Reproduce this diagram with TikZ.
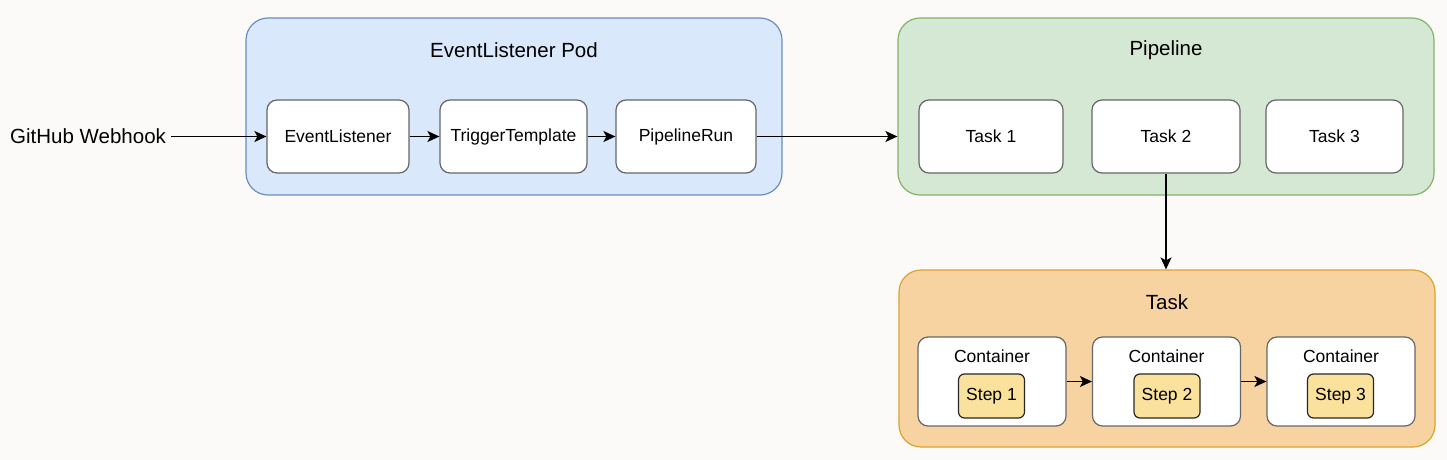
\documentclass[tikz,border=0pt]{standalone}
\usepackage{fontspec}
\setmainfont{Liberation Sans}
\usetikzlibrary{arrows.meta}
\definecolor{bgc}{RGB}{251,250,248}
\definecolor{bluefill}{HTML}{DAE8FC}
\definecolor{bluedraw}{HTML}{6C8EBF}
\definecolor{greenfill}{HTML}{D5E8D4}
\definecolor{greendraw}{HTML}{82B366}
\definecolor{orangefill}{HTML}{F8D3A2}
\definecolor{orangedraw}{HTML}{DDA22E}
\definecolor{stepfill}{HTML}{FBE29C}
\definecolor{boxdraw}{HTML}{666666}
\tikzset{
  x=1pt, y=-1pt,
  group/.style={draw, rounded corners=22pt, line width=1.2pt, minimum width=536pt, minimum height=177pt, inner sep=0pt},
  itembox/.style={draw=boxdraw, fill=white, rounded corners=10pt, line width=1.2pt, minimum height=73pt, inner sep=0pt, font=\fontsize{17.5}{20}\selectfont},
  contbox/.style={draw=boxdraw, fill=white, rounded corners=10pt, line width=1.2pt, minimum width=148pt, minimum height=89pt, inner sep=0pt},
  stepbox/.style={draw=black!85, fill=stepfill, rounded corners=6pt, line width=1.2pt, minimum width=66pt, minimum height=44pt, inner sep=0pt, font=\fontsize{17.5}{20}\selectfont},
  title/.style={font=\fontsize{20.5}{24}\selectfont, inner sep=0pt},
  lbl/.style={font=\fontsize{17.5}{20}\selectfont, inner sep=0pt},
  arr/.style={-{Stealth[length=12pt,width=11pt,inset=3pt]}, line width=1.5pt, black},
}
\begin{document}
\begin{tikzpicture}
\fill[bgc] (0,0) rectangle (1447,460);
\useasboundingbox (0,0) rectangle (1447,460);

% EventListener Pod
\node[group, fill=bluefill, draw=bluedraw] (pod) at (514,106.5) {};
\node[title] (podt) at (514,50) {EventListener Pod};
\node[itembox, minimum width=142pt] (el) at (338,136.5) {EventListener};
\node[itembox, minimum width=147pt] (tt) at (513.5,136.5) {TriggerTemplate};
\node[itembox, minimum width=140pt] (pr) at (686,136.5) {PipelineRun};

% Pipeline
\node[group, fill=greenfill, draw=greendraw] (pipe) at (1166,106.5) {};
\node[title] (pipet) at (1166,50) {Pipeline};
\node[itembox, minimum width=144pt] (t1) at (991,136.5) {Task 1};
\node[itembox, minimum width=148pt] (t2) at (1166,136.5) {Task 2};
\node[itembox, minimum width=137pt] (t3) at (1334.5,136.5) {Task 3};

% Task
\node[group, fill=orangefill, draw=orangedraw] (task) at (1167,358.5) {};
\node[title] (taskt) at (1167,302) {Task};
\node[contbox] (c1) at (992,381.5) {};
\node[contbox] (c2) at (1166.5,381.5) {};
\node[contbox] (c3) at (1341,381.5) {};
\node[lbl] (c1l) at (992,356) {Container};
\node[lbl] (c2l) at (1166.5,356) {Container};
\node[lbl] (c3l) at (1341,356) {Container};
\node[stepbox] (s1) at (991.5,396) {Step 1};
\node[stepbox] (s2) at (1167,396) {Step 2};
\node[stepbox] (s3) at (1340.5,396) {Step 3};

% Webhook
\node[title, anchor=west] (gh) at (10,136.5) {GitHub Webhook};

% Connectors
\draw[arr] (gh.east) ++(5pt,0) -- (el.west);
\draw[arr] (el) -- (tt);
\draw[arr] (tt) -- (pr);
\draw[arr] (pr.east) -- (pr.east -| pipe.west);
\draw[arr] (t2.south) -- (t2.south |- task.north);
\draw[arr] (c1) -- (c2);
\draw[arr] (c2) -- (c3);
\end{tikzpicture}
\end{document}
